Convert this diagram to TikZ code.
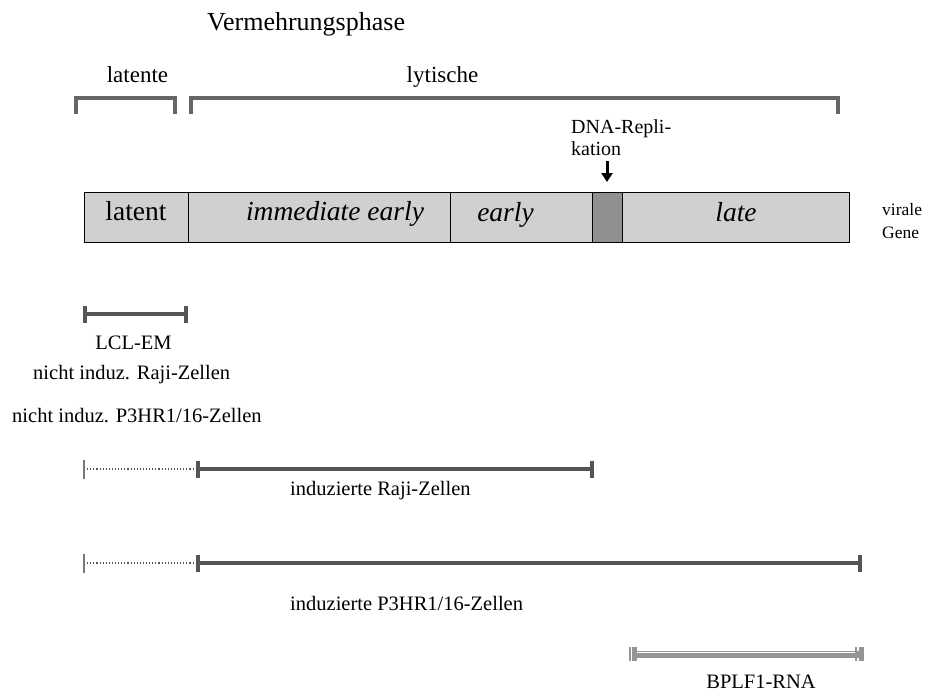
\documentclass[tikz,border=0pt]{standalone}
\usepackage{fontspec}
\setmainfont{Liberation Serif}
\usetikzlibrary{arrows.meta,calc}
\definecolor{bracketgray}{HTML}{666666}
\definecolor{rangegray}{HTML}{555555}
\definecolor{barfill}{HTML}{D0D0D0}
\definecolor{repfill}{HTML}{909090}
\definecolor{rnagray}{HTML}{959595}
\definecolor{thingray}{HTML}{777777}
\begin{document}
\begin{tikzpicture}[x=1pt,y=-1pt,
  txt/.style={inner sep=0pt, anchor=base, font=\fontsize{20.5}{24}\selectfont},
  head/.style={inner sep=0pt, anchor=base, font=\fontsize{23}{27}\selectfont},
  segtxt/.style={inner sep=0pt, anchor=base, font=\fontsize{27.5}{32}\selectfont},
  seg/.style={draw=black, line width=1.3pt, fill=barfill, inner sep=0pt, anchor=north west, minimum height=50pt},
  bracketline/.style={draw=bracketgray, line width=4pt},
  rangeline/.style={draw=rangegray, line width=4pt},
  dotline/.style={draw=rangegray, line width=1.1pt, dotted},
  thintick/.style={draw=thingray, line width=1.5pt},
]
\useasboundingbox (0,0) rectangle (930,691);

% title
\node[inner sep=0pt, anchor=base west, font=\fontsize{26}{30}\selectfont] (title) at (207,30) {Vermehrungsphase};

% phase headings and brackets
\node[head] (latente) at (137.5,82) {latente};
\node[head] (lytische) at (442.5,82) {lytische};
\coordinate (bl1) at (76,114); \coordinate (bl2) at (76,98);
\coordinate (bl3) at (175,98); \coordinate (bl4) at (175,114);
\draw[bracketline] (bl1) -- (bl2) -- (bl3) -- (bl4);
\coordinate (br1) at (191,114); \coordinate (br2) at (191,98);
\coordinate (br3) at (838,98); \coordinate (br4) at (838,114);
\draw[bracketline] (br1) -- (br2) -- (br3) -- (br4);

% gene bar
\node[seg, minimum width=104pt] (sLatent) at (84,192) {};
\node[seg, minimum width=262pt] (sIE) at (188,192) {};
\node[seg, minimum width=142pt] (sEarly) at (450,192) {};
\node[seg, minimum width=30pt, fill=repfill] (sRep) at (592,192) {};
\node[seg, minimum width=227pt] (sLate) at (622,192) {};
\node[segtxt] (tLatent) at (136,220) {latent};
\node[segtxt] (tIE) at (335,220) {\itshape immediate early};
\node[segtxt] (tEarly) at (505.5,221) {\itshape early};
\node[segtxt] (tLate) at (736,221) {\itshape late};

% virale Gene
\node[inner sep=0pt, anchor=base west, font=\fontsize{17.5}{23}\selectfont] (viral) at (882,215) {virale};
\node[inner sep=0pt, anchor=base west, font=\fontsize{17.5}{23}\selectfont] (gene) at (882,238) {Gene};

% DNA replication
\node[inner sep=0pt, anchor=base west, font=\fontsize{20}{22}\selectfont] (dna1) at (571,133) {DNA-Repli-};
\node[inner sep=0pt, anchor=base west, font=\fontsize{20}{22}\selectfont] (dna2) at (571,155) {kation};
\coordinate (arrTop) at (607,161);
\coordinate (arrTip) at (607,182);
\draw[line width=3pt, -{Triangle[width=11pt,length=9pt]}] (arrTop) -- (arrTip);

% LCL-EM
\coordinate (lcl1) at (85,314); \coordinate (lcl2) at (186,314);
\draw[rangeline] (lcl1) -- (lcl2);
\draw[rangeline] ($(lcl1)+(0,-8.5)$) -- ($(lcl1)+(0,8.5)$);
\draw[rangeline] ($(lcl2)+(0,-8.5)$) -- ($(lcl2)+(0,8.5)$);
\node[txt] (tLCL) at (133.5,349) {LCL-EM};
\node[txt, anchor=base west] (tRajiN) at (33,379) {nicht induz. Raji-Zellen};
\node[txt, anchor=base west] (tP3N) at (12,422) {nicht induz. P3HR1/16-Zellen};

% induced Raji
\coordinate (r0) at (84,469); \coordinate (r1) at (198,469); \coordinate (r2) at (592,469);
\draw[dotline] (r0) -- (r1);
\draw[thintick] ($(r0)+(0,-9.5)$) -- ($(r0)+(0,9.5)$);
\draw[rangeline] (r1) -- (r2);
\draw[rangeline] ($(r1)+(0,-8.5)$) -- ($(r1)+(0,8.5)$);
\draw[rangeline] ($(r2)+(0,-8.5)$) -- ($(r2)+(0,8.5)$);
\node[txt, anchor=base west] (tRaji) at (290,495) {induzierte Raji-Zellen};

% induced P3HR1
\coordinate (p0) at (84,563); \coordinate (p1) at (198,563); \coordinate (p2) at (860,563);
\draw[dotline] (p0) -- (p1);
\draw[thintick] ($(p0)+(0,-9.5)$) -- ($(p0)+(0,9.5)$);
\draw[rangeline] (p1) -- (p2);
\draw[rangeline] ($(p1)+(0,-8.5)$) -- ($(p1)+(0,8.5)$);
\draw[rangeline] ($(p2)+(0,-8.5)$) -- ($(p2)+(0,8.5)$);
\node[txt, anchor=base west] (tP3) at (290,610) {induzierte P3HR1/16-Zellen};

% BPLF1-RNA
\coordinate (b1) at (634,654); \coordinate (b2) at (861,654);
\draw[draw=rnagray, line width=7pt] (b1) -- (b2);
\draw[draw=white, line width=1pt] ($(b1)+(3,-1.5)$) -- ($(b2)+(-5,-1.5)$);
\draw[draw=rnagray, line width=5pt] ($(b1)+(0,-7)$) -- ($(b1)+(0,7)$);
\draw[draw=rnagray, line width=5pt] ($(b2)+(0,-7)$) -- ($(b2)+(0,7)$);
\draw[draw=rnagray, line width=1.2pt] ($(b1)+(-4,-7)$) -- ($(b1)+(-4,7)$);
\draw[draw=rnagray, line width=1.2pt] ($(b2)+(-5,-7)$) -- ($(b2)+(-5,7)$);
\node[txt] (tRNA) at (761,688) {BPLF1-RNA};
\end{tikzpicture}
\end{document}
